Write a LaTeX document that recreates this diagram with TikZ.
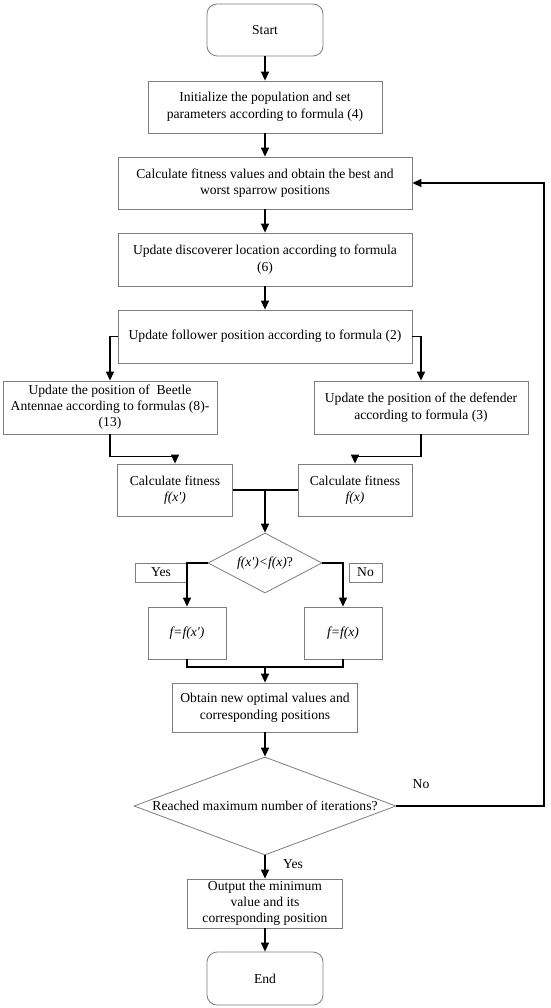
\documentclass[tikz,border=0pt]{standalone}
\usepackage{fontspec}
\setmainfont{Liberation Serif}
\usetikzlibrary{shapes.geometric,arrows.meta}
\definecolor{boxgray}{RGB}{125,125,125}
\newcommand{\qprime}{\textquotesingle}
\begin{document}
\begin{tikzpicture}[x=1pt,y=-1pt,
  every node/.style={font=\fontsize{13.6}{16.5}\selectfont},
  box/.style={draw=boxgray, line width=0.8pt, align=center, inner sep=0pt, fill=white},
  term/.style={box, rounded corners=10pt},
  dec/.style={diamond, draw=boxgray, line width=0.8pt, inner sep=0pt, aspect=1},
  lbl/.style={inner sep=0pt},
  arr/.style={line width=1.3pt, black, -{Triangle[length=9pt,width=8pt]}},
  ln/.style={line width=1.3pt, black}]
\useasboundingbox (0,0) rectangle (550,1008);
\node[term, minimum width=116pt, minimum height=52pt] (start) at (265,30) {Start};
\node[box, minimum width=234pt, minimum height=52pt] (init) at (265,107) {Initialize the population and set\\parameters according to formula (4)};
\node[box, minimum width=294pt, minimum height=52pt] (calc) at (265,183) {Calculate fitness values and obtain the best and\\worst sparrow positions};
\node[box, minimum width=294pt, minimum height=53pt] (disc) at (265,259.5) {Update discoverer location according to formula\\(6)};
\node[box, minimum width=294pt, minimum height=53pt] (foll) at (265,336.5) {Update follower position according to formula (2)};
\node[box, minimum width=214pt, minimum height=53pt, font=\fontsize{13.6}{16}\selectfont] (beetle) at (110,407.5) {Update the position of\ \ Beetle\\Antennae according to formulas (8)-\\(13)};
\node[box, minimum width=214pt, minimum height=53pt] (def) at (421,407.5) {Update the position of the defender\\according to formula (3)};
\node[box, minimum width=115pt, minimum height=52pt] (fitL) at (175,490) {Calculate fitness\\\textit{f(x\qprime)}};
\node[box, minimum width=114pt, minimum height=52pt] (fitR) at (355,490) {Calculate fitness\\\textit{f(x)}};
\node[dec, minimum width=114pt, minimum height=60pt] (d1) at (265,563) {\makebox[0pt]{\textit{f(x\qprime)<f(x)}?}};
\node[box, minimum width=52pt, minimum height=19pt] (yes1) at (161,572.5) {Yes};
\node[box, minimum width=33pt, minimum height=19pt] (no1) at (365.5,572.5) {No};
\node[box, minimum width=78pt, minimum height=52pt] (fL) at (187,633) {\textit{f=f(x\qprime)}};
\node[box, minimum width=78pt, minimum height=52pt] (fR) at (343,633) {\textit{f=f(x)}};
\node[box, minimum width=185pt, minimum height=49pt] (obt) at (265,707.5) {Obtain new optimal values and\\corresponding positions};
\node[dec, minimum width=262pt, minimum height=98pt] (d2) at (265,806) {\makebox[0pt]{Reached maximum number of iterations?}};
\node[box, minimum width=155pt, minimum height=49pt, font=\fontsize{13.6}{16.2}\selectfont] (out) at (265,903.5) {Output the minimum\\value and its\\corresponding position};
\node[term, minimum width=116pt, minimum height=53pt] (end) at (265,978.5) {End};
\node[lbl] (yes2) at (293,864) {Yes};
\node[lbl] (no2) at (421,784) {No};
\coordinate (j1) at (265,490);
\coordinate (j2) at (265,667);
\coordinate (c1) at (544,806);
\draw[arr] (start) -- (init);
\draw[arr] (init) -- (calc);
\draw[arr] (calc) -- (disc);
\draw[arr] (disc) -- (foll);
\draw[arr] (foll.west) -| (beetle.north);
\draw[arr] (foll.east) -| (def.north);
\draw[arr] (beetle.south) -- ++(0,22) -| (fitL.north);
\draw[arr] (def.south) -- ++(0,22) -| (fitR.north);
\draw[ln] (fitL.east) -- (fitR.west);
\draw[arr] (j1) -- (d1.north);
\draw[arr] (d1.west) -| (fL.north);
\draw[arr] (d1.east) -| (fR.north);
\draw[ln] (fL.south) |- (j2) -| (fR.south);
\draw[arr] (j2) -- (obt.north);
\draw[arr] (obt) -- (d2.north);
\draw[arr] (d2.south) -- (out.north);
\draw[arr] (out) -- (end);
\draw[arr] (d2.east) -- (c1) |- (calc.east);
\end{tikzpicture}
\end{document}
